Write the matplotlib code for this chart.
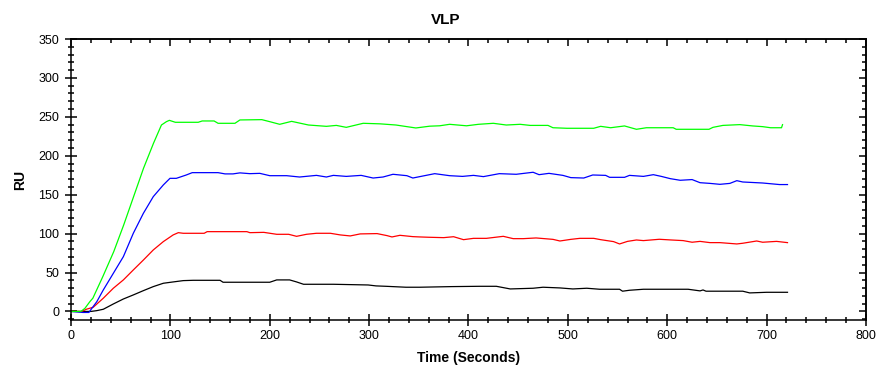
import matplotlib
matplotlib.use("Agg")
import matplotlib.pyplot as plt
from matplotlib.ticker import MultipleLocator

plt.rcParams['font.family'] = ['Liberation Sans', 'DejaVu Sans']

# sensorgram traces (time in s, response in RU)
green_t = [0, 10, 14, 19, 22, 32, 43, 53, 63, 73,
           83, 91, 96, 99, 105, 128, 132, 144, 148, 165,
           170, 192, 200, 210, 222, 239, 257, 267, 277, 294,
           311, 327, 347, 361, 371, 381, 398, 410, 425, 438,
           452, 462, 480, 485, 499, 512, 526, 533, 543, 557,
           569, 579, 606, 609, 622, 642, 646, 656, 673, 686,
           696, 704, 715, 716]
green_ru = [0, 0, 4, 12.6, 17, 44.7, 76.8, 111, 147.5, 184,
            216, 239.5, 243.8, 245.5, 243, 243, 244.7, 244.7, 241.7, 241.7,
            246, 246.4, 243.8, 240.4, 244.2, 239.5, 237.8, 239, 236.5, 241.7,
            241, 239.5, 235.7, 238, 238.5, 240.4, 238.5, 240.4, 241.7, 239.5,
            240.4, 239, 239, 236, 235.3, 235.3, 235.3, 237.8, 236, 238.3,
            234, 236, 236, 234, 234, 234, 236.5, 239, 240, 238.3,
            237.4, 236, 236, 240]

blue_t = [0, 12, 18, 21, 26, 32.5, 42.6, 52.7, 62.7, 72.8,
          82.8, 92.9, 99.6, 106, 116, 122, 148, 155, 163, 170, 180, 190,
          200, 217, 230, 247, 257, 264, 277, 292, 304, 314,
          324, 338, 344, 351, 366, 381, 394, 405, 415, 431,
          448, 465, 471, 481, 495, 503, 516, 525, 538, 542,
          557, 562, 576, 586, 594, 603, 613, 625, 633, 643,
          653, 663, 670, 676, 696, 713, 721]
blue_ru = [0, -1.3, -1.3, 4, 12.6, 27.6, 49, 70.4, 100.4, 126,
           147.5, 162.5, 171, 171, 175.3, 178.3, 178.3, 176.7, 176.7, 178, 177, 177.4,
           174.4, 174.4, 172.7, 174.8, 172.7, 174.8, 173.5, 174.8, 171.4, 172.7,
           176.2, 174.4, 171.4, 173.2, 177, 174.4, 173.5, 174.8, 173.2, 177,
           176.2, 178.8, 175.7, 177.4, 174.8, 171.9, 171.4, 175.3, 174.8, 172.3,
           172.3, 174.8, 173.5, 175.7, 173.5, 170.6, 168.5, 169.4, 165.4, 164.5,
           163.3, 164.5, 168, 166.3, 165, 163, 163]

red_t = [0, 11, 15.4, 22.4, 32.5, 42.6, 52.7, 62.7, 72.8, 82.8,
         92.9, 102.8, 108, 113, 134, 137, 177, 180, 194, 207,
         219, 227, 237, 247, 261, 271, 281, 291, 308, 318,
         323, 331, 344, 351, 360, 375, 385, 395, 405, 418,
         435, 445, 455, 468, 485, 492, 503, 512, 526, 533,
         546, 552, 560, 569, 576, 592, 604, 616, 625, 633,
         643, 653, 670, 676, 690, 696, 710, 721]
red_ru = [0, 0, 2.8, 5.4, 17, 29.8, 40.5, 53.3, 66, 79,
          89.7, 98.3, 101.2, 100.4, 100.4, 102.5, 102.5, 101.2, 101.6, 99.1,
          99.1, 96.5, 99.1, 100.4, 100.4, 98.3, 97, 99.6, 100, 97.4,
          95.7, 97.8, 96.1, 95.7, 95.3, 94.8, 96, 92.2, 93.9, 93.9,
          96.5, 93.5, 93.5, 94.4, 92.6, 90.5, 92.6, 93.9, 93.9, 92.2,
          89.7, 86.7, 90, 91.8, 91, 92.7, 91.8, 91, 88.9, 90,
          88.4, 88.4, 86.7, 87.6, 90.5, 88.9, 90, 88.4]

black_t = [0, 20, 25.8, 32.5, 42.6, 52.7, 62.7, 72.8, 82.8, 92.9,
           102.8, 113, 123, 150, 153, 200, 207, 220, 227, 234,
           264, 299, 307, 317, 337, 351, 383, 411, 428, 442,
           465, 475, 492, 505, 519, 532, 552, 555, 562, 576,
           621, 633, 636, 639, 676, 683, 700, 721]
black_ru = [0, 0, 1, 2.8, 9.6, 16, 21.2, 26.7, 31.9, 36.2,
            37.9, 39.6, 40, 40, 37.5, 37.5, 40.5, 40.5, 37.9, 34.9,
            34.9, 34, 32.8, 32.3, 31.1, 31.1, 31.9, 32.3, 32.3, 28.9,
            29.8, 31.1, 30.2, 28.9, 29.8, 28.5, 28.5, 26, 27.2, 28.5,
            28.5, 26.4, 27.6, 26, 26, 23.8, 24.6, 24.6]


def main():
    fig = plt.figure(figsize=(8.92, 3.8), dpi=100)
    ax = fig.add_axes([71 / 892, 1 - 320 / 380, (866 - 71) / 892, (320 - 39) / 380])

    for t, ru, c in [(black_t, black_ru, 'black'), (red_t, red_ru, '#ff0000'),
                     (blue_t, blue_ru, '#0000ff'), (green_t, green_ru, '#00ff00')]:
        ax.plot(t, ru, color=c, linewidth=0.9)

    ax.set_xlim(0, 800)
    ax.set_ylim(-11, 350)
    ax.xaxis.set_major_locator(MultipleLocator(100))
    ax.xaxis.set_minor_locator(MultipleLocator(20))
    ax.yaxis.set_major_locator(MultipleLocator(50))
    ax.yaxis.set_minor_locator(MultipleLocator(10))
    ax.set_yticks(range(0, 351, 50))
    ax.tick_params(which='major', direction='inout', length=9, width=1.1,
                   labelsize=9, pad=4)
    ax.tick_params(which='minor', direction='inout', length=5, width=1.1)
    ax.tick_params(axis='x', which='major', pad=3)
    for sp in ax.spines.values():
        sp.set_linewidth(1.1)

    # inward ticks on the top and right frame
    top = ax.secondary_xaxis('top')
    top.xaxis.set_major_locator(MultipleLocator(100))
    top.xaxis.set_minor_locator(MultipleLocator(20))
    top.tick_params(which='major', direction='in', length=5, width=1.1, labeltop=False)
    top.tick_params(which='minor', direction='in', length=3, width=1.1)
    right = ax.secondary_yaxis('right')
    right.yaxis.set_major_locator(MultipleLocator(50))
    right.yaxis.set_minor_locator(MultipleLocator(10))
    right.tick_params(which='major', direction='in', length=5, width=1.1, labelright=False)
    right.tick_params(which='minor', direction='in', length=3, width=1.1)
    top.spines['top'].set_linewidth(1.1)
    right.spines['right'].set_linewidth(1.1)

    ax.set_xlabel('Time (Seconds)', fontsize=10, fontweight='bold', labelpad=6)
    ax.set_ylabel('RU', fontsize=10, fontweight='bold', labelpad=8)
    fig.suptitle('VLP', x=0.5, y=0.965, fontsize=11, fontweight='bold')

    fig.savefig('out.png', dpi=100)


if __name__ == '__main__':
    main()
